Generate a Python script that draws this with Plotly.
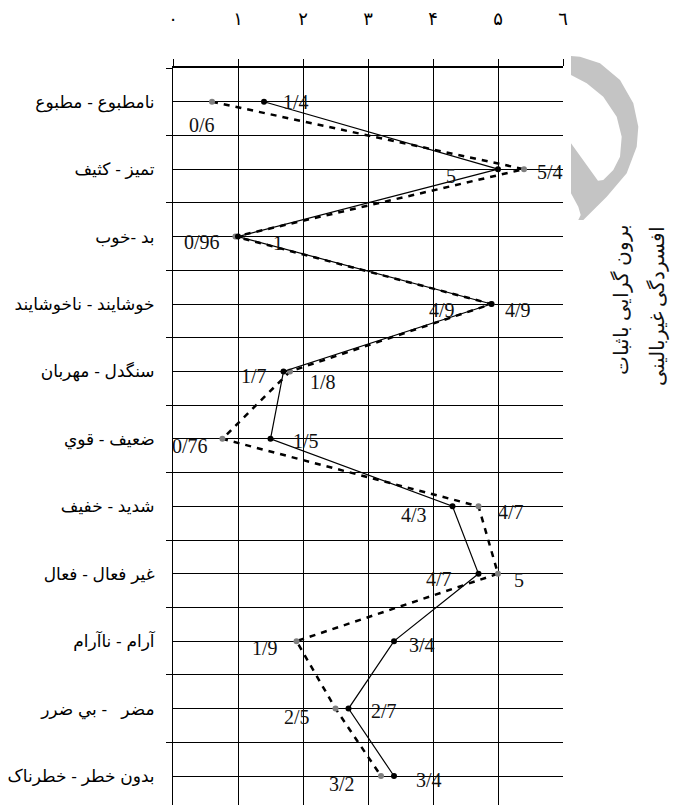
import plotly.graph_objects as go

# semantic differential items, top to bottom
categories = [
	"نامطبوع - مطبوع",
	"تمیز - کثیف",
	"بد -خوب",
	"خوشایند - ناخوشایند",
	"سنگدل - مهربان",
	"ضعیف - قوي",
	"شدید - خفیف",
	"غیر فعال - فعال",
	"آرام - ناآرام",
	"مضر   - بي ضرر",
	"بدون خطر - خطرناک",
]
x_ticks = [0, 1, 2, 3, 4, 5, 6]
x_ticktext = ["۰", "۱", "۲", "۳", "۴", "۵", "٦"]

series_names = ["برون گرایی باثبات", "افسردگی غیربالینی"]
extravert = [1.4, 5, 1, 4.9, 1.7, 1.5, 4.3, 4.7, 3.4, 2.7, 3.4]
depressed = [0.6, 5.4, 0.96, 4.9, 1.8, 0.76, 4.7, 5, 1.9, 2.5, 3.2]

# label offsets in px (dx, dy down) for each point label
extravert_offsets = [(32, 0), (-47, 7), (40, 6), (-50, 6), (-30, 5), (35, 2),
	(-39, 9), (-40, 5), (28, 4), (35, 2), (35, 4)]
depressed_offsets = [(-10, 23), (26, 3), (-33, 5), (26, 6), (33, 11), (-32, 7),
	(32, 6), (21, 6), (-32, 7), (-39, 8), (-39, 8)]

W, H = 682, 805
PAGE = 8  # body margin of the html page
L, R, T, B = 165, 127, 60, 8


def fmt(v):
	return f"{v:g}".replace(".", "/")


def to_paper(px, py):
	# screen px -> paper coords
	px, py = px - PAGE, py - PAGE
	return (px - L) / (W - L - R), (H - B - py) / (H - T - B)


rows = list(range(len(categories)))

fig = go.Figure()
fig.add_trace(go.Scatter(
	x=depressed, y=rows, name=series_names[1],
	mode='lines+markers',
	line=dict(color='black', width=2.5, dash='6px,6px'),
	marker=dict(color='#7f7f7f', size=6),
))
fig.add_trace(go.Scatter(
	x=extravert, y=rows, name=series_names[0],
	mode='lines+markers',
	line=dict(color='black', width=1.2),
	marker=dict(color='black', size=6),
))

for vals, offs in [(extravert, extravert_offsets), (depressed, depressed_offsets)]:
	for i, v in enumerate(vals):
		fig.add_annotation(
			x=v, y=i, text=fmt(v), showarrow=False,
			xshift=offs[i][0], yshift=-offs[i][1],
			font=dict(family="Liberation Serif, Times New Roman, serif", size=20, color='#111'),
		)

# legend text, rotated along the right side
for name, px, py in zip(series_names, [621, 657], [300, 306]):
	xp, yp = to_paper(px, py)
	fig.add_annotation(
		x=xp, y=yp, xref='paper', yref='paper', text=name, showarrow=False,
		xanchor='center', yanchor='middle', textangle=-90,
		font=dict(family="Times New Roman, Liberation Serif, DejaVu Serif, serif", size=20, color='#111'),
	)

# grey watermark at the top right (screen px outline)
outline = [(571, 56), (580, 56.7), (600, 63.3), (620, 80), (633.3, 103.3),
	(638.3, 126.7), (636.7, 146.7), (626.7, 173.3), (606.7, 196.7), (583.3, 220),
	(578.3, 220), (580.7, 215), (578.3, 206.7), (571, 193.3), (571, 143.3),
	(598, 180.7), (603.3, 180), (613.3, 170), (620, 156.7), (621.7, 136.7),
	(616.7, 116.7), (603.3, 96.7), (586.7, 83.3), (571, 75)]
pts = [to_paper(*p) for p in outline]
path = "M " + " L ".join(f"{a:.4f},{b:.4f}" for a, b in pts) + " Z"
fig.add_shape(type='path', path=path, xref='paper', yref='paper',
	fillcolor='#c4c4c4', line=dict(width=0), layer='above')

fig.update_layout(
	width=W, height=H,
	margin=dict(l=L, r=R, t=T, b=B, pad=0, autoexpand=False),
	plot_bgcolor='white', paper_bgcolor='white',
	showlegend=False,
)
fig.update_xaxes(
	side='top', range=[0, 6], automargin=False,
	tickvals=x_ticks, ticktext=x_ticktext,
	ticks='outside', ticklen=7, tickcolor='black',
	ticklabelstandoff=27,
	tickfont=dict(family="DejaVu Sans, sans-serif", size=18, color='black'),
	showgrid=True, gridcolor='black', gridwidth=1,
	showline=True, linecolor='black', linewidth=1.5,
	zeroline=False,
)
fig.update_yaxes(
	range=[10.43, -0.5], automargin=False,
	tickvals=rows, ticktext=categories,
	ticks='', ticklabelstandoff=14,
	tickfont=dict(family="Arial, Liberation Sans, DejaVu Sans, sans-serif", size=17, color='black'),
	showgrid=True, gridcolor='black', gridwidth=1,
	minor=dict(tick0=-0.5, dtick=1, ticks='outside', ticklen=6, tickcolor='black',
		showgrid=True, gridcolor='black', gridwidth=1),
	showline=True, linecolor='black', linewidth=1,
	zeroline=False,
)

fig.write_html("out.html")
